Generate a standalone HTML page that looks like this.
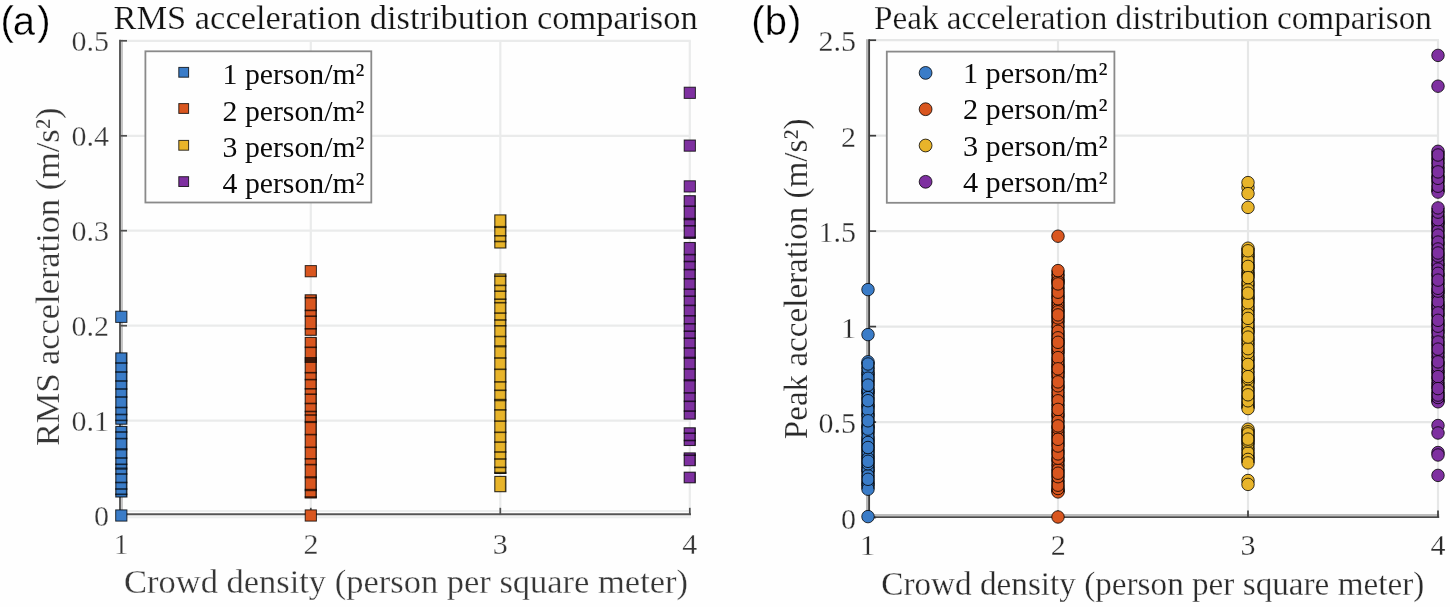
<!DOCTYPE html>
<html><head><meta charset="utf-8"><title>Acceleration distribution comparison</title>
<style>html,body{margin:0;padding:0;background:#fefefe;}body{width:1450px;height:607px;overflow:hidden;}svg{display:block;filter:blur(0.4px);}</style>
</head><body>
<svg width="1450" height="607" viewBox="0 0 1450 607">
<rect width="1450" height="607" fill="#fefefe"/>
<line x1="310.8" y1="40.8" x2="310.8" y2="515.6" stroke="#eaebeb" stroke-width="2.2"/>
<line x1="500.3" y1="40.8" x2="500.3" y2="515.6" stroke="#eaebeb" stroke-width="2.2"/>
<line x1="689.8" y1="40.8" x2="689.8" y2="515.6" stroke="#eaebeb" stroke-width="2.2"/>
<line x1="121.3" y1="420.6" x2="690.8" y2="420.6" stroke="#eaebeb" stroke-width="2.2"/>
<line x1="121.3" y1="325.7" x2="690.8" y2="325.7" stroke="#eaebeb" stroke-width="2.2"/>
<line x1="121.3" y1="230.7" x2="690.8" y2="230.7" stroke="#eaebeb" stroke-width="2.2"/>
<line x1="121.3" y1="135.8" x2="690.8" y2="135.8" stroke="#eaebeb" stroke-width="2.2"/>
<line x1="121.3" y1="40.8" x2="690.8" y2="40.8" stroke="#eaebeb" stroke-width="2.2"/>
<line x1="119.0" y1="511.0" x2="691.0" y2="511.0" stroke="#eceeee" stroke-width="2"/>
<line x1="119.0" y1="517.3" x2="691.0" y2="517.3" stroke="#eceeee" stroke-width="2"/>
<line x1="122.0" y1="39.8" x2="122.0" y2="515.3" stroke="#c6c6c6" stroke-width="2"/>
<line x1="120.0" y1="39.8" x2="120.0" y2="515.3" stroke="#555" stroke-width="1.9"/>
<line x1="119.0" y1="514.3" x2="691.0" y2="514.3" stroke="#555" stroke-width="2"/>
<line x1="120.0" y1="515.6" x2="127.0" y2="515.6" stroke="#505050" stroke-width="1.7"/>
<line x1="120.0" y1="420.6" x2="127.0" y2="420.6" stroke="#505050" stroke-width="1.7"/>
<line x1="120.0" y1="325.7" x2="127.0" y2="325.7" stroke="#505050" stroke-width="1.7"/>
<line x1="120.0" y1="230.7" x2="127.0" y2="230.7" stroke="#505050" stroke-width="1.7"/>
<line x1="120.0" y1="135.8" x2="127.0" y2="135.8" stroke="#505050" stroke-width="1.7"/>
<line x1="120.0" y1="40.8" x2="127.0" y2="40.8" stroke="#505050" stroke-width="1.7"/>
<line x1="310.8" y1="514.3" x2="310.8" y2="507.8" stroke="#505050" stroke-width="1.7"/>
<line x1="500.3" y1="514.3" x2="500.3" y2="507.8" stroke="#505050" stroke-width="1.7"/>
<line x1="689.8" y1="514.3" x2="689.8" y2="507.8" stroke="#505050" stroke-width="1.7"/>
<line x1="1058.0" y1="40.2" x2="1058.0" y2="517.5" stroke="#e6e7e7" stroke-width="2.2"/>
<line x1="1248.0" y1="40.2" x2="1248.0" y2="517.5" stroke="#e6e7e7" stroke-width="2.2"/>
<line x1="1438.0" y1="40.2" x2="1438.0" y2="517.5" stroke="#e6e7e7" stroke-width="2.2"/>
<line x1="868.0" y1="422.1" x2="1439.0" y2="422.1" stroke="#e6e7e7" stroke-width="2.2"/>
<line x1="868.0" y1="326.6" x2="1439.0" y2="326.6" stroke="#e6e7e7" stroke-width="2.2"/>
<line x1="868.0" y1="231.1" x2="1439.0" y2="231.1" stroke="#e6e7e7" stroke-width="2.2"/>
<line x1="868.0" y1="135.7" x2="1439.0" y2="135.7" stroke="#e6e7e7" stroke-width="2.2"/>
<line x1="868.0" y1="40.2" x2="1439.0" y2="40.2" stroke="#e6e7e7" stroke-width="2.2"/>
<line x1="867.0" y1="39.2" x2="867.0" y2="518.1" stroke="#b6b6b6" stroke-width="2"/>
<line x1="868.1" y1="514.9" x2="1439.2" y2="514.9" stroke="#bdbdbd" stroke-width="2"/>
<line x1="869.1" y1="39.2" x2="869.1" y2="518.1" stroke="#3e3e3e" stroke-width="1.9"/>
<line x1="868.1" y1="517.1" x2="1439.2" y2="517.1" stroke="#4a4a4a" stroke-width="1.9"/>
<line x1="869.1" y1="517.5" x2="876.1" y2="517.5" stroke="#3c3c3c" stroke-width="1.7"/>
<line x1="869.1" y1="422.1" x2="876.1" y2="422.1" stroke="#3c3c3c" stroke-width="1.7"/>
<line x1="869.1" y1="326.6" x2="876.1" y2="326.6" stroke="#3c3c3c" stroke-width="1.7"/>
<line x1="869.1" y1="231.1" x2="876.1" y2="231.1" stroke="#3c3c3c" stroke-width="1.7"/>
<line x1="869.1" y1="135.7" x2="876.1" y2="135.7" stroke="#3c3c3c" stroke-width="1.7"/>
<line x1="869.1" y1="40.2" x2="876.1" y2="40.2" stroke="#3c3c3c" stroke-width="1.7"/>
<line x1="1058.0" y1="517.1" x2="1058.0" y2="510.6" stroke="#3c3c3c" stroke-width="1.7"/>
<line x1="1248.0" y1="517.1" x2="1248.0" y2="510.6" stroke="#3c3c3c" stroke-width="1.7"/>
<line x1="1438.0" y1="517.1" x2="1438.0" y2="510.6" stroke="#3c3c3c" stroke-width="1.7"/>
<rect x="115.7" y="311.2" width="11.2" height="11.2" fill="#3a7cc8" stroke="#000" stroke-opacity="0.78" stroke-width="1.0"/>
<rect x="115.8" y="352.9" width="11.1" height="71.3" fill="#3a7cc8" stroke="#000" stroke-opacity="0.8" stroke-width="1.1"/>
<rect x="115.2" y="362.2" width="12.2" height="1.6" fill="#000" fill-opacity="0.7"/>
<rect x="115.2" y="371.2" width="12.2" height="1.6" fill="#000" fill-opacity="0.7"/>
<rect x="115.2" y="380.2" width="12.2" height="1.6" fill="#000" fill-opacity="0.7"/>
<rect x="115.2" y="388.2" width="12.2" height="1.6" fill="#000" fill-opacity="0.7"/>
<rect x="115.2" y="396.2" width="12.2" height="1.6" fill="#000" fill-opacity="0.7"/>
<rect x="115.2" y="406.7" width="12.2" height="1.6" fill="#000" fill-opacity="0.7"/>
<rect x="115.2" y="413.7" width="12.2" height="1.6" fill="#000" fill-opacity="0.7"/>
<rect x="115.2" y="419.6" width="12.2" height="1.6" fill="#000" fill-opacity="0.7"/>
<line x1="126.4" y1="353.4" x2="126.4" y2="423.8" stroke="#000" stroke-opacity="0.35" stroke-width="1.2"/>
<rect x="115.8" y="426.4" width="11.1" height="70.6" fill="#3a7cc8" stroke="#000" stroke-opacity="0.8" stroke-width="1.1"/>
<rect x="115.2" y="431.2" width="12.2" height="1.6" fill="#000" fill-opacity="0.7"/>
<rect x="115.2" y="437.8" width="12.2" height="1.6" fill="#000" fill-opacity="0.7"/>
<rect x="115.2" y="448.2" width="12.2" height="2.2" fill="#000" fill-opacity="0.7"/>
<rect x="115.2" y="457.2" width="12.2" height="1.6" fill="#000" fill-opacity="0.7"/>
<rect x="115.2" y="463.5" width="12.2" height="1.6" fill="#000" fill-opacity="0.7"/>
<rect x="115.2" y="467.5" width="12.2" height="2.2" fill="#000" fill-opacity="0.7"/>
<rect x="115.2" y="473.2" width="12.2" height="1.6" fill="#000" fill-opacity="0.7"/>
<rect x="115.2" y="481.7" width="12.2" height="1.6" fill="#000" fill-opacity="0.7"/>
<rect x="115.2" y="488.2" width="12.2" height="1.6" fill="#000" fill-opacity="0.7"/>
<rect x="115.2" y="493.5" width="12.2" height="1.6" fill="#000" fill-opacity="0.7"/>
<line x1="126.4" y1="426.8" x2="126.4" y2="496.5" stroke="#000" stroke-opacity="0.35" stroke-width="1.2"/>
<rect x="115.7" y="509.9" width="11.2" height="11.2" fill="#3a7cc8" stroke="#000" stroke-opacity="0.78" stroke-width="1.0"/>
<rect x="305.2" y="265.6" width="11.2" height="11.2" fill="#d9561f" stroke="#000" stroke-opacity="0.78" stroke-width="1.0"/>
<rect x="305.2" y="294.8" width="11.1" height="40.5" fill="#d9561f" stroke="#000" stroke-opacity="0.8" stroke-width="1.1"/>
<rect x="304.7" y="296.9" width="12.2" height="1.6" fill="#000" fill-opacity="0.7"/>
<rect x="304.7" y="309.6" width="12.2" height="1.6" fill="#000" fill-opacity="0.7"/>
<rect x="304.7" y="315.4" width="12.2" height="1.6" fill="#000" fill-opacity="0.7"/>
<rect x="304.7" y="328.0" width="12.2" height="1.6" fill="#000" fill-opacity="0.7"/>
<line x1="315.9" y1="295.2" x2="315.9" y2="334.8" stroke="#000" stroke-opacity="0.35" stroke-width="1.2"/>
<rect x="305.2" y="337.4" width="11.1" height="160.6" fill="#d9561f" stroke="#000" stroke-opacity="0.8" stroke-width="1.1"/>
<rect x="304.7" y="346.5" width="12.2" height="1.6" fill="#000" fill-opacity="0.7"/>
<rect x="304.7" y="357.0" width="12.2" height="6.0" fill="#000" fill-opacity="0.7"/>
<rect x="304.7" y="371.9" width="12.2" height="1.6" fill="#000" fill-opacity="0.7"/>
<rect x="304.7" y="378.8" width="12.2" height="1.6" fill="#000" fill-opacity="0.7"/>
<rect x="304.7" y="388.0" width="12.2" height="1.6" fill="#000" fill-opacity="0.7"/>
<rect x="304.7" y="393.4" width="12.2" height="1.6" fill="#000" fill-opacity="0.7"/>
<rect x="304.7" y="402.7" width="12.2" height="1.6" fill="#000" fill-opacity="0.7"/>
<rect x="304.7" y="410.7" width="12.2" height="1.6" fill="#000" fill-opacity="0.7"/>
<rect x="304.7" y="414.2" width="12.2" height="1.6" fill="#000" fill-opacity="0.7"/>
<rect x="304.7" y="420.9" width="12.2" height="2.2" fill="#000" fill-opacity="0.7"/>
<rect x="304.7" y="433.8" width="12.2" height="1.6" fill="#000" fill-opacity="0.7"/>
<rect x="304.7" y="446.5" width="12.2" height="1.6" fill="#000" fill-opacity="0.7"/>
<rect x="304.7" y="458.0" width="12.2" height="1.6" fill="#000" fill-opacity="0.7"/>
<rect x="304.7" y="463.8" width="12.2" height="1.6" fill="#000" fill-opacity="0.7"/>
<rect x="304.7" y="476.2" width="12.2" height="2.2" fill="#000" fill-opacity="0.7"/>
<rect x="304.7" y="488.8" width="12.2" height="2.4" fill="#000" fill-opacity="0.7"/>
<rect x="304.7" y="496.2" width="12.2" height="1.6" fill="#000" fill-opacity="0.7"/>
<line x1="315.9" y1="337.8" x2="315.9" y2="497.5" stroke="#000" stroke-opacity="0.35" stroke-width="1.2"/>
<rect x="305.2" y="509.9" width="11.2" height="11.2" fill="#d9561f" stroke="#000" stroke-opacity="0.78" stroke-width="1.0"/>
<rect x="494.8" y="214.9" width="11.1" height="33.1" fill="#e8b42a" stroke="#000" stroke-opacity="0.8" stroke-width="1.1"/>
<rect x="494.2" y="225.9" width="12.2" height="2.2" fill="#000" fill-opacity="0.7"/>
<rect x="494.2" y="235.0" width="12.2" height="1.6" fill="#000" fill-opacity="0.7"/>
<rect x="494.2" y="240.7" width="12.2" height="1.6" fill="#000" fill-opacity="0.7"/>
<line x1="505.4" y1="215.3" x2="505.4" y2="247.5" stroke="#000" stroke-opacity="0.35" stroke-width="1.2"/>
<rect x="494.8" y="273.9" width="11.1" height="199.5" fill="#e8b42a" stroke="#000" stroke-opacity="0.8" stroke-width="1.1"/>
<rect x="494.2" y="275.4" width="12.2" height="1.6" fill="#000" fill-opacity="0.7"/>
<rect x="494.2" y="284.6" width="12.2" height="1.6" fill="#000" fill-opacity="0.7"/>
<rect x="494.2" y="290.4" width="12.2" height="1.6" fill="#000" fill-opacity="0.7"/>
<rect x="494.2" y="298.4" width="12.2" height="1.6" fill="#000" fill-opacity="0.7"/>
<rect x="494.2" y="301.9" width="12.2" height="1.6" fill="#000" fill-opacity="0.7"/>
<rect x="494.2" y="312.3" width="12.2" height="1.6" fill="#000" fill-opacity="0.7"/>
<rect x="494.2" y="319.2" width="12.2" height="1.6" fill="#000" fill-opacity="0.7"/>
<rect x="494.2" y="325.0" width="12.2" height="1.6" fill="#000" fill-opacity="0.7"/>
<rect x="494.2" y="335.7" width="12.2" height="1.6" fill="#000" fill-opacity="0.7"/>
<rect x="494.2" y="345.2" width="12.2" height="2.2" fill="#000" fill-opacity="0.7"/>
<rect x="494.2" y="357.2" width="12.2" height="1.6" fill="#000" fill-opacity="0.7"/>
<rect x="494.2" y="368.5" width="12.2" height="1.6" fill="#000" fill-opacity="0.7"/>
<rect x="494.2" y="381.1" width="12.2" height="1.6" fill="#000" fill-opacity="0.7"/>
<rect x="494.2" y="389.5" width="12.2" height="1.6" fill="#000" fill-opacity="0.7"/>
<rect x="494.2" y="398.8" width="12.2" height="2.5" fill="#000" fill-opacity="0.7"/>
<rect x="494.2" y="409.1" width="12.2" height="1.6" fill="#000" fill-opacity="0.7"/>
<rect x="494.2" y="420.3" width="12.2" height="1.6" fill="#000" fill-opacity="0.7"/>
<rect x="494.2" y="431.5" width="12.2" height="1.6" fill="#000" fill-opacity="0.7"/>
<rect x="494.2" y="441.3" width="12.2" height="1.6" fill="#000" fill-opacity="0.7"/>
<rect x="494.2" y="451.2" width="12.2" height="1.6" fill="#000" fill-opacity="0.7"/>
<rect x="494.2" y="458.2" width="12.2" height="1.6" fill="#000" fill-opacity="0.7"/>
<rect x="494.2" y="466.6" width="12.2" height="1.6" fill="#000" fill-opacity="0.7"/>
<rect x="494.2" y="471.8" width="12.2" height="2.0" fill="#000" fill-opacity="0.7"/>
<line x1="505.4" y1="274.4" x2="505.4" y2="473.0" stroke="#000" stroke-opacity="0.35" stroke-width="1.2"/>
<rect x="494.8" y="476.4" width="11.1" height="15.3" fill="#e8b42a" stroke="#000" stroke-opacity="0.8" stroke-width="1.1"/>
<line x1="505.4" y1="476.8" x2="505.4" y2="491.2" stroke="#000" stroke-opacity="0.35" stroke-width="1.2"/>
<rect x="684.2" y="87.2" width="11.2" height="11.2" fill="#7e30a0" stroke="#000" stroke-opacity="0.78" stroke-width="1.0"/>
<rect x="684.2" y="140.0" width="11.2" height="11.2" fill="#7e30a0" stroke="#000" stroke-opacity="0.78" stroke-width="1.0"/>
<rect x="684.2" y="180.8" width="11.2" height="11.2" fill="#7e30a0" stroke="#000" stroke-opacity="0.78" stroke-width="1.0"/>
<rect x="684.2" y="195.7" width="11.1" height="42.7" fill="#7e30a0" stroke="#000" stroke-opacity="0.8" stroke-width="1.1"/>
<rect x="683.7" y="205.4" width="12.2" height="1.6" fill="#000" fill-opacity="0.7"/>
<rect x="683.7" y="217.8" width="12.2" height="2.5" fill="#000" fill-opacity="0.7"/>
<rect x="683.7" y="225.0" width="12.2" height="1.6" fill="#000" fill-opacity="0.7"/>
<rect x="683.7" y="236.5" width="12.2" height="1.6" fill="#000" fill-opacity="0.7"/>
<line x1="694.9" y1="196.1" x2="694.9" y2="237.9" stroke="#000" stroke-opacity="0.35" stroke-width="1.2"/>
<rect x="684.2" y="242.5" width="11.1" height="176.6" fill="#7e30a0" stroke="#000" stroke-opacity="0.8" stroke-width="1.1"/>
<rect x="683.7" y="253.8" width="12.2" height="1.6" fill="#000" fill-opacity="0.7"/>
<rect x="683.7" y="260.7" width="12.2" height="1.6" fill="#000" fill-opacity="0.7"/>
<rect x="683.7" y="268.8" width="12.2" height="1.6" fill="#000" fill-opacity="0.7"/>
<rect x="683.7" y="278.0" width="12.2" height="1.6" fill="#000" fill-opacity="0.7"/>
<rect x="683.7" y="288.4" width="12.2" height="1.6" fill="#000" fill-opacity="0.7"/>
<rect x="683.7" y="295.4" width="12.2" height="1.6" fill="#000" fill-opacity="0.7"/>
<rect x="683.7" y="304.6" width="12.2" height="1.6" fill="#000" fill-opacity="0.7"/>
<rect x="683.7" y="315.0" width="12.2" height="1.6" fill="#000" fill-opacity="0.7"/>
<rect x="683.7" y="323.0" width="12.2" height="1.6" fill="#000" fill-opacity="0.7"/>
<rect x="683.7" y="330.4" width="12.2" height="1.6" fill="#000" fill-opacity="0.7"/>
<rect x="683.7" y="337.4" width="12.2" height="1.6" fill="#000" fill-opacity="0.7"/>
<rect x="683.7" y="347.2" width="12.2" height="1.6" fill="#000" fill-opacity="0.7"/>
<rect x="683.7" y="356.7" width="12.2" height="2.2" fill="#000" fill-opacity="0.7"/>
<rect x="683.7" y="368.2" width="12.2" height="1.6" fill="#000" fill-opacity="0.7"/>
<rect x="683.7" y="379.2" width="12.2" height="2.2" fill="#000" fill-opacity="0.7"/>
<rect x="683.7" y="392.1" width="12.2" height="1.6" fill="#000" fill-opacity="0.7"/>
<rect x="683.7" y="400.5" width="12.2" height="1.6" fill="#000" fill-opacity="0.7"/>
<rect x="683.7" y="410.3" width="12.2" height="1.6" fill="#000" fill-opacity="0.7"/>
<line x1="694.9" y1="242.9" x2="694.9" y2="418.6" stroke="#000" stroke-opacity="0.35" stroke-width="1.2"/>
<rect x="684.2" y="427.8" width="11.1" height="17.7" fill="#7e30a0" stroke="#000" stroke-opacity="0.8" stroke-width="1.1"/>
<rect x="683.7" y="432.4" width="12.2" height="1.6" fill="#000" fill-opacity="0.7"/>
<rect x="683.7" y="439.7" width="12.2" height="1.6" fill="#000" fill-opacity="0.7"/>
<line x1="694.9" y1="428.2" x2="694.9" y2="445.0" stroke="#000" stroke-opacity="0.35" stroke-width="1.2"/>
<rect x="684.2" y="452.9" width="11.1" height="12.8" fill="#7e30a0" stroke="#000" stroke-opacity="0.8" stroke-width="1.1"/>
<rect x="683.7" y="454.4" width="12.2" height="1.6" fill="#000" fill-opacity="0.7"/>
<line x1="694.9" y1="453.4" x2="694.9" y2="465.3" stroke="#000" stroke-opacity="0.35" stroke-width="1.2"/>
<rect x="684.2" y="472.2" width="11.1" height="10.6" fill="#7e30a0" stroke="#000" stroke-opacity="0.8" stroke-width="1.1"/>
<line x1="694.9" y1="472.7" x2="694.9" y2="482.4" stroke="#000" stroke-opacity="0.35" stroke-width="1.2"/>
<circle cx="868.0" cy="289.6" r="6.25" fill="#3a7cc8" stroke="#000" stroke-opacity="0.78" stroke-width="1.0"/>
<circle cx="868.0" cy="334.6" r="6.25" fill="#3a7cc8" stroke="#000" stroke-opacity="0.78" stroke-width="1.0"/>
<circle cx="868.0" cy="449.9" r="6.25" fill="#3a7cc8" stroke="#000" stroke-opacity="0.78" stroke-width="1.0"/>
<circle cx="868.0" cy="456.3" r="6.25" fill="#3a7cc8" stroke="#000" stroke-opacity="0.78" stroke-width="1.0"/>
<circle cx="868.0" cy="393.3" r="6.25" fill="#3a7cc8" stroke="#000" stroke-opacity="0.78" stroke-width="1.0"/>
<circle cx="868.0" cy="453.0" r="6.25" fill="#3a7cc8" stroke="#000" stroke-opacity="0.78" stroke-width="1.0"/>
<circle cx="868.0" cy="375.0" r="6.25" fill="#3a7cc8" stroke="#000" stroke-opacity="0.78" stroke-width="1.0"/>
<circle cx="868.0" cy="471.5" r="6.25" fill="#3a7cc8" stroke="#000" stroke-opacity="0.78" stroke-width="1.0"/>
<circle cx="868.0" cy="413.7" r="6.25" fill="#3a7cc8" stroke="#000" stroke-opacity="0.78" stroke-width="1.0"/>
<circle cx="868.0" cy="391.4" r="6.25" fill="#3a7cc8" stroke="#000" stroke-opacity="0.78" stroke-width="1.0"/>
<circle cx="868.0" cy="361.8" r="6.25" fill="#3a7cc8" stroke="#000" stroke-opacity="0.78" stroke-width="1.0"/>
<circle cx="868.0" cy="445.6" r="6.25" fill="#3a7cc8" stroke="#000" stroke-opacity="0.78" stroke-width="1.0"/>
<circle cx="868.0" cy="432.5" r="6.25" fill="#3a7cc8" stroke="#000" stroke-opacity="0.78" stroke-width="1.0"/>
<circle cx="868.0" cy="381.4" r="6.25" fill="#3a7cc8" stroke="#000" stroke-opacity="0.78" stroke-width="1.0"/>
<circle cx="868.0" cy="389.3" r="6.25" fill="#3a7cc8" stroke="#000" stroke-opacity="0.78" stroke-width="1.0"/>
<circle cx="868.0" cy="467.0" r="6.25" fill="#3a7cc8" stroke="#000" stroke-opacity="0.78" stroke-width="1.0"/>
<circle cx="868.0" cy="440.1" r="6.25" fill="#3a7cc8" stroke="#000" stroke-opacity="0.78" stroke-width="1.0"/>
<circle cx="868.0" cy="372.4" r="6.25" fill="#3a7cc8" stroke="#000" stroke-opacity="0.78" stroke-width="1.0"/>
<circle cx="868.0" cy="406.6" r="6.25" fill="#3a7cc8" stroke="#000" stroke-opacity="0.78" stroke-width="1.0"/>
<circle cx="868.0" cy="368.3" r="6.25" fill="#3a7cc8" stroke="#000" stroke-opacity="0.78" stroke-width="1.0"/>
<circle cx="868.0" cy="427.2" r="6.25" fill="#3a7cc8" stroke="#000" stroke-opacity="0.78" stroke-width="1.0"/>
<circle cx="868.0" cy="416.2" r="6.25" fill="#3a7cc8" stroke="#000" stroke-opacity="0.78" stroke-width="1.0"/>
<circle cx="868.0" cy="397.6" r="6.25" fill="#3a7cc8" stroke="#000" stroke-opacity="0.78" stroke-width="1.0"/>
<circle cx="868.0" cy="378.2" r="6.25" fill="#3a7cc8" stroke="#000" stroke-opacity="0.78" stroke-width="1.0"/>
<circle cx="868.0" cy="483.0" r="6.25" fill="#3a7cc8" stroke="#000" stroke-opacity="0.78" stroke-width="1.0"/>
<circle cx="868.0" cy="404.8" r="6.25" fill="#3a7cc8" stroke="#000" stroke-opacity="0.78" stroke-width="1.0"/>
<circle cx="868.0" cy="469.6" r="6.25" fill="#3a7cc8" stroke="#000" stroke-opacity="0.78" stroke-width="1.0"/>
<circle cx="868.0" cy="437.1" r="6.25" fill="#3a7cc8" stroke="#000" stroke-opacity="0.78" stroke-width="1.0"/>
<circle cx="868.0" cy="485.4" r="6.25" fill="#3a7cc8" stroke="#000" stroke-opacity="0.78" stroke-width="1.0"/>
<circle cx="868.0" cy="409.7" r="6.25" fill="#3a7cc8" stroke="#000" stroke-opacity="0.78" stroke-width="1.0"/>
<circle cx="868.0" cy="364.0" r="6.25" fill="#3a7cc8" stroke="#000" stroke-opacity="0.78" stroke-width="1.0"/>
<circle cx="868.0" cy="475.8" r="6.25" fill="#3a7cc8" stroke="#000" stroke-opacity="0.78" stroke-width="1.0"/>
<circle cx="868.0" cy="463.8" r="6.25" fill="#3a7cc8" stroke="#000" stroke-opacity="0.78" stroke-width="1.0"/>
<circle cx="868.0" cy="442.5" r="6.25" fill="#3a7cc8" stroke="#000" stroke-opacity="0.78" stroke-width="1.0"/>
<circle cx="868.0" cy="458.8" r="6.25" fill="#3a7cc8" stroke="#000" stroke-opacity="0.78" stroke-width="1.0"/>
<circle cx="868.0" cy="489.2" r="6.25" fill="#3a7cc8" stroke="#000" stroke-opacity="0.78" stroke-width="1.0"/>
<circle cx="868.0" cy="425.3" r="6.25" fill="#3a7cc8" stroke="#000" stroke-opacity="0.78" stroke-width="1.0"/>
<circle cx="868.0" cy="400.7" r="6.25" fill="#3a7cc8" stroke="#000" stroke-opacity="0.78" stroke-width="1.0"/>
<circle cx="868.0" cy="479.3" r="6.25" fill="#3a7cc8" stroke="#000" stroke-opacity="0.78" stroke-width="1.0"/>
<circle cx="868.0" cy="447.5" r="6.25" fill="#3a7cc8" stroke="#000" stroke-opacity="0.78" stroke-width="1.0"/>
<circle cx="868.0" cy="461.3" r="6.25" fill="#3a7cc8" stroke="#000" stroke-opacity="0.78" stroke-width="1.0"/>
<circle cx="868.0" cy="429.1" r="6.25" fill="#3a7cc8" stroke="#000" stroke-opacity="0.78" stroke-width="1.0"/>
<circle cx="868.0" cy="385.1" r="6.25" fill="#3a7cc8" stroke="#000" stroke-opacity="0.78" stroke-width="1.0"/>
<circle cx="868.0" cy="420.8" r="6.25" fill="#3a7cc8" stroke="#000" stroke-opacity="0.78" stroke-width="1.0"/>
<line x1="862.1" y1="361.8" x2="862.1" y2="489.2" stroke="#000" stroke-opacity="0.55" stroke-width="1.6"/>
<line x1="873.9" y1="361.8" x2="873.9" y2="489.2" stroke="#000" stroke-opacity="0.55" stroke-width="1.6"/>
<circle cx="868.0" cy="516.6" r="6.25" fill="#3a7cc8" stroke="#000" stroke-opacity="0.78" stroke-width="1.0"/>
<circle cx="1058.0" cy="236.2" r="6.25" fill="#d9561f" stroke="#000" stroke-opacity="0.78" stroke-width="1.0"/>
<circle cx="1058.0" cy="279.9" r="6.25" fill="#d9561f" stroke="#000" stroke-opacity="0.78" stroke-width="1.0"/>
<circle cx="1058.0" cy="490.9" r="6.25" fill="#d9561f" stroke="#000" stroke-opacity="0.78" stroke-width="1.0"/>
<circle cx="1058.0" cy="367.0" r="6.25" fill="#d9561f" stroke="#000" stroke-opacity="0.78" stroke-width="1.0"/>
<circle cx="1058.0" cy="302.4" r="6.25" fill="#d9561f" stroke="#000" stroke-opacity="0.78" stroke-width="1.0"/>
<circle cx="1058.0" cy="432.2" r="6.25" fill="#d9561f" stroke="#000" stroke-opacity="0.78" stroke-width="1.0"/>
<circle cx="1058.0" cy="481.2" r="6.25" fill="#d9561f" stroke="#000" stroke-opacity="0.78" stroke-width="1.0"/>
<circle cx="1058.0" cy="436.1" r="6.25" fill="#d9561f" stroke="#000" stroke-opacity="0.78" stroke-width="1.0"/>
<circle cx="1058.0" cy="364.5" r="6.25" fill="#d9561f" stroke="#000" stroke-opacity="0.78" stroke-width="1.0"/>
<circle cx="1058.0" cy="450.6" r="6.25" fill="#d9561f" stroke="#000" stroke-opacity="0.78" stroke-width="1.0"/>
<circle cx="1058.0" cy="306.0" r="6.25" fill="#d9561f" stroke="#000" stroke-opacity="0.78" stroke-width="1.0"/>
<circle cx="1058.0" cy="334.7" r="6.25" fill="#d9561f" stroke="#000" stroke-opacity="0.78" stroke-width="1.0"/>
<circle cx="1058.0" cy="321.8" r="6.25" fill="#d9561f" stroke="#000" stroke-opacity="0.78" stroke-width="1.0"/>
<circle cx="1058.0" cy="344.2" r="6.25" fill="#d9561f" stroke="#000" stroke-opacity="0.78" stroke-width="1.0"/>
<circle cx="1058.0" cy="416.4" r="6.25" fill="#d9561f" stroke="#000" stroke-opacity="0.78" stroke-width="1.0"/>
<circle cx="1058.0" cy="340.4" r="6.25" fill="#d9561f" stroke="#000" stroke-opacity="0.78" stroke-width="1.0"/>
<circle cx="1058.0" cy="396.8" r="6.25" fill="#d9561f" stroke="#000" stroke-opacity="0.78" stroke-width="1.0"/>
<circle cx="1058.0" cy="353.1" r="6.25" fill="#d9561f" stroke="#000" stroke-opacity="0.78" stroke-width="1.0"/>
<circle cx="1058.0" cy="288.2" r="6.25" fill="#d9561f" stroke="#000" stroke-opacity="0.78" stroke-width="1.0"/>
<circle cx="1058.0" cy="428.1" r="6.25" fill="#d9561f" stroke="#000" stroke-opacity="0.78" stroke-width="1.0"/>
<circle cx="1058.0" cy="309.5" r="6.25" fill="#d9561f" stroke="#000" stroke-opacity="0.78" stroke-width="1.0"/>
<circle cx="1058.0" cy="442.7" r="6.25" fill="#d9561f" stroke="#000" stroke-opacity="0.78" stroke-width="1.0"/>
<circle cx="1058.0" cy="413.6" r="6.25" fill="#d9561f" stroke="#000" stroke-opacity="0.78" stroke-width="1.0"/>
<circle cx="1058.0" cy="465.5" r="6.25" fill="#d9561f" stroke="#000" stroke-opacity="0.78" stroke-width="1.0"/>
<circle cx="1058.0" cy="275.2" r="6.25" fill="#d9561f" stroke="#000" stroke-opacity="0.78" stroke-width="1.0"/>
<circle cx="1058.0" cy="421.2" r="6.25" fill="#d9561f" stroke="#000" stroke-opacity="0.78" stroke-width="1.0"/>
<circle cx="1058.0" cy="296.0" r="6.25" fill="#d9561f" stroke="#000" stroke-opacity="0.78" stroke-width="1.0"/>
<circle cx="1058.0" cy="298.7" r="6.25" fill="#d9561f" stroke="#000" stroke-opacity="0.78" stroke-width="1.0"/>
<circle cx="1058.0" cy="361.0" r="6.25" fill="#d9561f" stroke="#000" stroke-opacity="0.78" stroke-width="1.0"/>
<circle cx="1058.0" cy="405.3" r="6.25" fill="#d9561f" stroke="#000" stroke-opacity="0.78" stroke-width="1.0"/>
<circle cx="1058.0" cy="326.6" r="6.25" fill="#d9561f" stroke="#000" stroke-opacity="0.78" stroke-width="1.0"/>
<circle cx="1058.0" cy="350.2" r="6.25" fill="#d9561f" stroke="#000" stroke-opacity="0.78" stroke-width="1.0"/>
<circle cx="1058.0" cy="388.1" r="6.25" fill="#d9561f" stroke="#000" stroke-opacity="0.78" stroke-width="1.0"/>
<circle cx="1058.0" cy="317.9" r="6.25" fill="#d9561f" stroke="#000" stroke-opacity="0.78" stroke-width="1.0"/>
<circle cx="1058.0" cy="331.3" r="6.25" fill="#d9561f" stroke="#000" stroke-opacity="0.78" stroke-width="1.0"/>
<circle cx="1058.0" cy="461.0" r="6.25" fill="#d9561f" stroke="#000" stroke-opacity="0.78" stroke-width="1.0"/>
<circle cx="1058.0" cy="281.8" r="6.25" fill="#d9561f" stroke="#000" stroke-opacity="0.78" stroke-width="1.0"/>
<circle cx="1058.0" cy="292.2" r="6.25" fill="#d9561f" stroke="#000" stroke-opacity="0.78" stroke-width="1.0"/>
<circle cx="1058.0" cy="311.8" r="6.25" fill="#d9561f" stroke="#000" stroke-opacity="0.78" stroke-width="1.0"/>
<circle cx="1058.0" cy="270.6" r="6.25" fill="#d9561f" stroke="#000" stroke-opacity="0.78" stroke-width="1.0"/>
<circle cx="1058.0" cy="491.9" r="6.25" fill="#d9561f" stroke="#000" stroke-opacity="0.78" stroke-width="1.0"/>
<circle cx="1058.0" cy="283.9" r="6.25" fill="#d9561f" stroke="#000" stroke-opacity="0.78" stroke-width="1.0"/>
<circle cx="1058.0" cy="488.5" r="6.25" fill="#d9561f" stroke="#000" stroke-opacity="0.78" stroke-width="1.0"/>
<circle cx="1058.0" cy="347.4" r="6.25" fill="#d9561f" stroke="#000" stroke-opacity="0.78" stroke-width="1.0"/>
<circle cx="1058.0" cy="470.0" r="6.25" fill="#d9561f" stroke="#000" stroke-opacity="0.78" stroke-width="1.0"/>
<circle cx="1058.0" cy="371.6" r="6.25" fill="#d9561f" stroke="#000" stroke-opacity="0.78" stroke-width="1.0"/>
<circle cx="1058.0" cy="314.9" r="6.25" fill="#d9561f" stroke="#000" stroke-opacity="0.78" stroke-width="1.0"/>
<circle cx="1058.0" cy="485.2" r="6.25" fill="#d9561f" stroke="#000" stroke-opacity="0.78" stroke-width="1.0"/>
<circle cx="1058.0" cy="357.6" r="6.25" fill="#d9561f" stroke="#000" stroke-opacity="0.78" stroke-width="1.0"/>
<circle cx="1058.0" cy="392.6" r="6.25" fill="#d9561f" stroke="#000" stroke-opacity="0.78" stroke-width="1.0"/>
<circle cx="1058.0" cy="400.8" r="6.25" fill="#d9561f" stroke="#000" stroke-opacity="0.78" stroke-width="1.0"/>
<circle cx="1058.0" cy="409.4" r="6.25" fill="#d9561f" stroke="#000" stroke-opacity="0.78" stroke-width="1.0"/>
<circle cx="1058.0" cy="458.2" r="6.25" fill="#d9561f" stroke="#000" stroke-opacity="0.78" stroke-width="1.0"/>
<circle cx="1058.0" cy="377.1" r="6.25" fill="#d9561f" stroke="#000" stroke-opacity="0.78" stroke-width="1.0"/>
<circle cx="1058.0" cy="385.8" r="6.25" fill="#d9561f" stroke="#000" stroke-opacity="0.78" stroke-width="1.0"/>
<circle cx="1058.0" cy="373.8" r="6.25" fill="#d9561f" stroke="#000" stroke-opacity="0.78" stroke-width="1.0"/>
<circle cx="1058.0" cy="453.9" r="6.25" fill="#d9561f" stroke="#000" stroke-opacity="0.78" stroke-width="1.0"/>
<circle cx="1058.0" cy="425.9" r="6.25" fill="#d9561f" stroke="#000" stroke-opacity="0.78" stroke-width="1.0"/>
<circle cx="1058.0" cy="446.0" r="6.25" fill="#d9561f" stroke="#000" stroke-opacity="0.78" stroke-width="1.0"/>
<circle cx="1058.0" cy="476.7" r="6.25" fill="#d9561f" stroke="#000" stroke-opacity="0.78" stroke-width="1.0"/>
<circle cx="1058.0" cy="337.8" r="6.25" fill="#d9561f" stroke="#000" stroke-opacity="0.78" stroke-width="1.0"/>
<circle cx="1058.0" cy="368.8" r="6.25" fill="#d9561f" stroke="#000" stroke-opacity="0.78" stroke-width="1.0"/>
<circle cx="1058.0" cy="473.2" r="6.25" fill="#d9561f" stroke="#000" stroke-opacity="0.78" stroke-width="1.0"/>
<circle cx="1058.0" cy="439.3" r="6.25" fill="#d9561f" stroke="#000" stroke-opacity="0.78" stroke-width="1.0"/>
<circle cx="1058.0" cy="381.9" r="6.25" fill="#d9561f" stroke="#000" stroke-opacity="0.78" stroke-width="1.0"/>
<circle cx="1058.0" cy="342.3" r="6.25" fill="#d9561f" stroke="#000" stroke-opacity="0.78" stroke-width="1.0"/>
<line x1="1052.2" y1="270.6" x2="1052.2" y2="491.9" stroke="#000" stroke-opacity="0.55" stroke-width="1.6"/>
<line x1="1063.8" y1="270.6" x2="1063.8" y2="491.9" stroke="#000" stroke-opacity="0.55" stroke-width="1.6"/>
<circle cx="1058.0" cy="517.0" r="6.25" fill="#d9561f" stroke="#000" stroke-opacity="0.78" stroke-width="1.0"/>
<circle cx="1248.0" cy="187.5" r="6.25" fill="#e8b42a" stroke="#000" stroke-opacity="0.78" stroke-width="1.0"/>
<circle cx="1248.0" cy="182.6" r="6.25" fill="#e8b42a" stroke="#000" stroke-opacity="0.78" stroke-width="1.0"/>
<circle cx="1248.0" cy="193.6" r="6.25" fill="#e8b42a" stroke="#000" stroke-opacity="0.78" stroke-width="1.0"/>
<circle cx="1248.0" cy="207.4" r="6.25" fill="#e8b42a" stroke="#000" stroke-opacity="0.78" stroke-width="1.0"/>
<circle cx="1248.0" cy="344.3" r="6.25" fill="#e8b42a" stroke="#000" stroke-opacity="0.78" stroke-width="1.0"/>
<circle cx="1248.0" cy="360.2" r="6.25" fill="#e8b42a" stroke="#000" stroke-opacity="0.78" stroke-width="1.0"/>
<circle cx="1248.0" cy="357.2" r="6.25" fill="#e8b42a" stroke="#000" stroke-opacity="0.78" stroke-width="1.0"/>
<circle cx="1248.0" cy="285.6" r="6.25" fill="#e8b42a" stroke="#000" stroke-opacity="0.78" stroke-width="1.0"/>
<circle cx="1248.0" cy="406.6" r="6.25" fill="#e8b42a" stroke="#000" stroke-opacity="0.78" stroke-width="1.0"/>
<circle cx="1248.0" cy="328.1" r="6.25" fill="#e8b42a" stroke="#000" stroke-opacity="0.78" stroke-width="1.0"/>
<circle cx="1248.0" cy="403.8" r="6.25" fill="#e8b42a" stroke="#000" stroke-opacity="0.78" stroke-width="1.0"/>
<circle cx="1248.0" cy="380.9" r="6.25" fill="#e8b42a" stroke="#000" stroke-opacity="0.78" stroke-width="1.0"/>
<circle cx="1248.0" cy="388.0" r="6.25" fill="#e8b42a" stroke="#000" stroke-opacity="0.78" stroke-width="1.0"/>
<circle cx="1248.0" cy="320.4" r="6.25" fill="#e8b42a" stroke="#000" stroke-opacity="0.78" stroke-width="1.0"/>
<circle cx="1248.0" cy="272.5" r="6.25" fill="#e8b42a" stroke="#000" stroke-opacity="0.78" stroke-width="1.0"/>
<circle cx="1248.0" cy="264.4" r="6.25" fill="#e8b42a" stroke="#000" stroke-opacity="0.78" stroke-width="1.0"/>
<circle cx="1248.0" cy="340.3" r="6.25" fill="#e8b42a" stroke="#000" stroke-opacity="0.78" stroke-width="1.0"/>
<circle cx="1248.0" cy="330.8" r="6.25" fill="#e8b42a" stroke="#000" stroke-opacity="0.78" stroke-width="1.0"/>
<circle cx="1248.0" cy="408.6" r="6.25" fill="#e8b42a" stroke="#000" stroke-opacity="0.78" stroke-width="1.0"/>
<circle cx="1248.0" cy="299.1" r="6.25" fill="#e8b42a" stroke="#000" stroke-opacity="0.78" stroke-width="1.0"/>
<circle cx="1248.0" cy="397.5" r="6.25" fill="#e8b42a" stroke="#000" stroke-opacity="0.78" stroke-width="1.0"/>
<circle cx="1248.0" cy="257.1" r="6.25" fill="#e8b42a" stroke="#000" stroke-opacity="0.78" stroke-width="1.0"/>
<circle cx="1248.0" cy="310.6" r="6.25" fill="#e8b42a" stroke="#000" stroke-opacity="0.78" stroke-width="1.0"/>
<circle cx="1248.0" cy="324.5" r="6.25" fill="#e8b42a" stroke="#000" stroke-opacity="0.78" stroke-width="1.0"/>
<circle cx="1248.0" cy="275.1" r="6.25" fill="#e8b42a" stroke="#000" stroke-opacity="0.78" stroke-width="1.0"/>
<circle cx="1248.0" cy="248.2" r="6.25" fill="#e8b42a" stroke="#000" stroke-opacity="0.78" stroke-width="1.0"/>
<circle cx="1248.0" cy="352.6" r="6.25" fill="#e8b42a" stroke="#000" stroke-opacity="0.78" stroke-width="1.0"/>
<circle cx="1248.0" cy="367.5" r="6.25" fill="#e8b42a" stroke="#000" stroke-opacity="0.78" stroke-width="1.0"/>
<circle cx="1248.0" cy="332.7" r="6.25" fill="#e8b42a" stroke="#000" stroke-opacity="0.78" stroke-width="1.0"/>
<circle cx="1248.0" cy="282.4" r="6.25" fill="#e8b42a" stroke="#000" stroke-opacity="0.78" stroke-width="1.0"/>
<circle cx="1248.0" cy="254.2" r="6.25" fill="#e8b42a" stroke="#000" stroke-opacity="0.78" stroke-width="1.0"/>
<circle cx="1248.0" cy="348.7" r="6.25" fill="#e8b42a" stroke="#000" stroke-opacity="0.78" stroke-width="1.0"/>
<circle cx="1248.0" cy="383.3" r="6.25" fill="#e8b42a" stroke="#000" stroke-opacity="0.78" stroke-width="1.0"/>
<circle cx="1248.0" cy="337.1" r="6.25" fill="#e8b42a" stroke="#000" stroke-opacity="0.78" stroke-width="1.0"/>
<circle cx="1248.0" cy="296.9" r="6.25" fill="#e8b42a" stroke="#000" stroke-opacity="0.78" stroke-width="1.0"/>
<circle cx="1248.0" cy="260.7" r="6.25" fill="#e8b42a" stroke="#000" stroke-opacity="0.78" stroke-width="1.0"/>
<circle cx="1248.0" cy="268.2" r="6.25" fill="#e8b42a" stroke="#000" stroke-opacity="0.78" stroke-width="1.0"/>
<circle cx="1248.0" cy="307.2" r="6.25" fill="#e8b42a" stroke="#000" stroke-opacity="0.78" stroke-width="1.0"/>
<circle cx="1248.0" cy="400.8" r="6.25" fill="#e8b42a" stroke="#000" stroke-opacity="0.78" stroke-width="1.0"/>
<circle cx="1248.0" cy="289.9" r="6.25" fill="#e8b42a" stroke="#000" stroke-opacity="0.78" stroke-width="1.0"/>
<circle cx="1248.0" cy="266.4" r="6.25" fill="#e8b42a" stroke="#000" stroke-opacity="0.78" stroke-width="1.0"/>
<circle cx="1248.0" cy="391.1" r="6.25" fill="#e8b42a" stroke="#000" stroke-opacity="0.78" stroke-width="1.0"/>
<circle cx="1248.0" cy="372.1" r="6.25" fill="#e8b42a" stroke="#000" stroke-opacity="0.78" stroke-width="1.0"/>
<circle cx="1248.0" cy="364.4" r="6.25" fill="#e8b42a" stroke="#000" stroke-opacity="0.78" stroke-width="1.0"/>
<circle cx="1248.0" cy="314.6" r="6.25" fill="#e8b42a" stroke="#000" stroke-opacity="0.78" stroke-width="1.0"/>
<circle cx="1248.0" cy="277.6" r="6.25" fill="#e8b42a" stroke="#000" stroke-opacity="0.78" stroke-width="1.0"/>
<circle cx="1248.0" cy="378.7" r="6.25" fill="#e8b42a" stroke="#000" stroke-opacity="0.78" stroke-width="1.0"/>
<circle cx="1248.0" cy="302.8" r="6.25" fill="#e8b42a" stroke="#000" stroke-opacity="0.78" stroke-width="1.0"/>
<circle cx="1248.0" cy="250.8" r="6.25" fill="#e8b42a" stroke="#000" stroke-opacity="0.78" stroke-width="1.0"/>
<circle cx="1248.0" cy="394.8" r="6.25" fill="#e8b42a" stroke="#000" stroke-opacity="0.78" stroke-width="1.0"/>
<circle cx="1248.0" cy="318.4" r="6.25" fill="#e8b42a" stroke="#000" stroke-opacity="0.78" stroke-width="1.0"/>
<circle cx="1248.0" cy="293.2" r="6.25" fill="#e8b42a" stroke="#000" stroke-opacity="0.78" stroke-width="1.0"/>
<circle cx="1248.0" cy="376.6" r="6.25" fill="#e8b42a" stroke="#000" stroke-opacity="0.78" stroke-width="1.0"/>
<line x1="1242.2" y1="248.2" x2="1242.2" y2="408.6" stroke="#000" stroke-opacity="0.55" stroke-width="1.6"/>
<line x1="1253.8" y1="248.2" x2="1253.8" y2="408.6" stroke="#000" stroke-opacity="0.55" stroke-width="1.6"/>
<circle cx="1248.0" cy="457.0" r="6.25" fill="#e8b42a" stroke="#000" stroke-opacity="0.78" stroke-width="1.0"/>
<circle cx="1248.0" cy="448.7" r="6.25" fill="#e8b42a" stroke="#000" stroke-opacity="0.78" stroke-width="1.0"/>
<circle cx="1248.0" cy="444.1" r="6.25" fill="#e8b42a" stroke="#000" stroke-opacity="0.78" stroke-width="1.0"/>
<circle cx="1248.0" cy="452.9" r="6.25" fill="#e8b42a" stroke="#000" stroke-opacity="0.78" stroke-width="1.0"/>
<circle cx="1248.0" cy="459.4" r="6.25" fill="#e8b42a" stroke="#000" stroke-opacity="0.78" stroke-width="1.0"/>
<circle cx="1248.0" cy="441.1" r="6.25" fill="#e8b42a" stroke="#000" stroke-opacity="0.78" stroke-width="1.0"/>
<circle cx="1248.0" cy="429.2" r="6.25" fill="#e8b42a" stroke="#000" stroke-opacity="0.78" stroke-width="1.0"/>
<circle cx="1248.0" cy="436.9" r="6.25" fill="#e8b42a" stroke="#000" stroke-opacity="0.78" stroke-width="1.0"/>
<circle cx="1248.0" cy="462.9" r="6.25" fill="#e8b42a" stroke="#000" stroke-opacity="0.78" stroke-width="1.0"/>
<circle cx="1248.0" cy="431.8" r="6.25" fill="#e8b42a" stroke="#000" stroke-opacity="0.78" stroke-width="1.0"/>
<circle cx="1248.0" cy="433.9" r="6.25" fill="#e8b42a" stroke="#000" stroke-opacity="0.78" stroke-width="1.0"/>
<circle cx="1248.0" cy="439.1" r="6.25" fill="#e8b42a" stroke="#000" stroke-opacity="0.78" stroke-width="1.0"/>
<line x1="1242.2" y1="429.2" x2="1242.2" y2="462.9" stroke="#000" stroke-opacity="0.55" stroke-width="1.6"/>
<line x1="1253.8" y1="429.2" x2="1253.8" y2="462.9" stroke="#000" stroke-opacity="0.55" stroke-width="1.6"/>
<circle cx="1248.0" cy="480.5" r="6.25" fill="#e8b42a" stroke="#000" stroke-opacity="0.78" stroke-width="1.0"/>
<circle cx="1248.0" cy="484.4" r="6.25" fill="#e8b42a" stroke="#000" stroke-opacity="0.78" stroke-width="1.0"/>
<circle cx="1438.0" cy="55.4" r="6.25" fill="#7e30a0" stroke="#000" stroke-opacity="0.78" stroke-width="1.0"/>
<circle cx="1438.0" cy="86.2" r="6.25" fill="#7e30a0" stroke="#000" stroke-opacity="0.78" stroke-width="1.0"/>
<circle cx="1438.0" cy="181.5" r="6.25" fill="#7e30a0" stroke="#000" stroke-opacity="0.78" stroke-width="1.0"/>
<circle cx="1438.0" cy="159.0" r="6.25" fill="#7e30a0" stroke="#000" stroke-opacity="0.78" stroke-width="1.0"/>
<circle cx="1438.0" cy="189.9" r="6.25" fill="#7e30a0" stroke="#000" stroke-opacity="0.78" stroke-width="1.0"/>
<circle cx="1438.0" cy="192.1" r="6.25" fill="#7e30a0" stroke="#000" stroke-opacity="0.78" stroke-width="1.0"/>
<circle cx="1438.0" cy="186.2" r="6.25" fill="#7e30a0" stroke="#000" stroke-opacity="0.78" stroke-width="1.0"/>
<circle cx="1438.0" cy="151.3" r="6.25" fill="#7e30a0" stroke="#000" stroke-opacity="0.78" stroke-width="1.0"/>
<circle cx="1438.0" cy="167.9" r="6.25" fill="#7e30a0" stroke="#000" stroke-opacity="0.78" stroke-width="1.0"/>
<circle cx="1438.0" cy="176.4" r="6.25" fill="#7e30a0" stroke="#000" stroke-opacity="0.78" stroke-width="1.0"/>
<circle cx="1438.0" cy="163.2" r="6.25" fill="#7e30a0" stroke="#000" stroke-opacity="0.78" stroke-width="1.0"/>
<circle cx="1438.0" cy="178.3" r="6.25" fill="#7e30a0" stroke="#000" stroke-opacity="0.78" stroke-width="1.0"/>
<circle cx="1438.0" cy="171.9" r="6.25" fill="#7e30a0" stroke="#000" stroke-opacity="0.78" stroke-width="1.0"/>
<circle cx="1438.0" cy="155.0" r="6.25" fill="#7e30a0" stroke="#000" stroke-opacity="0.78" stroke-width="1.0"/>
<line x1="1432.2" y1="151.3" x2="1432.2" y2="192.1" stroke="#000" stroke-opacity="0.55" stroke-width="1.6"/>
<line x1="1443.8" y1="151.3" x2="1443.8" y2="192.1" stroke="#000" stroke-opacity="0.55" stroke-width="1.6"/>
<circle cx="1438.0" cy="265.6" r="6.25" fill="#7e30a0" stroke="#000" stroke-opacity="0.78" stroke-width="1.0"/>
<circle cx="1438.0" cy="330.0" r="6.25" fill="#7e30a0" stroke="#000" stroke-opacity="0.78" stroke-width="1.0"/>
<circle cx="1438.0" cy="284.0" r="6.25" fill="#7e30a0" stroke="#000" stroke-opacity="0.78" stroke-width="1.0"/>
<circle cx="1438.0" cy="224.0" r="6.25" fill="#7e30a0" stroke="#000" stroke-opacity="0.78" stroke-width="1.0"/>
<circle cx="1438.0" cy="337.5" r="6.25" fill="#7e30a0" stroke="#000" stroke-opacity="0.78" stroke-width="1.0"/>
<circle cx="1438.0" cy="227.8" r="6.25" fill="#7e30a0" stroke="#000" stroke-opacity="0.78" stroke-width="1.0"/>
<circle cx="1438.0" cy="400.8" r="6.25" fill="#7e30a0" stroke="#000" stroke-opacity="0.78" stroke-width="1.0"/>
<circle cx="1438.0" cy="275.9" r="6.25" fill="#7e30a0" stroke="#000" stroke-opacity="0.78" stroke-width="1.0"/>
<circle cx="1438.0" cy="315.6" r="6.25" fill="#7e30a0" stroke="#000" stroke-opacity="0.78" stroke-width="1.0"/>
<circle cx="1438.0" cy="304.8" r="6.25" fill="#7e30a0" stroke="#000" stroke-opacity="0.78" stroke-width="1.0"/>
<circle cx="1438.0" cy="222.2" r="6.25" fill="#7e30a0" stroke="#000" stroke-opacity="0.78" stroke-width="1.0"/>
<circle cx="1438.0" cy="378.6" r="6.25" fill="#7e30a0" stroke="#000" stroke-opacity="0.78" stroke-width="1.0"/>
<circle cx="1438.0" cy="357.2" r="6.25" fill="#7e30a0" stroke="#000" stroke-opacity="0.78" stroke-width="1.0"/>
<circle cx="1438.0" cy="309.2" r="6.25" fill="#7e30a0" stroke="#000" stroke-opacity="0.78" stroke-width="1.0"/>
<circle cx="1438.0" cy="383.1" r="6.25" fill="#7e30a0" stroke="#000" stroke-opacity="0.78" stroke-width="1.0"/>
<circle cx="1438.0" cy="332.9" r="6.25" fill="#7e30a0" stroke="#000" stroke-opacity="0.78" stroke-width="1.0"/>
<circle cx="1438.0" cy="238.0" r="6.25" fill="#7e30a0" stroke="#000" stroke-opacity="0.78" stroke-width="1.0"/>
<circle cx="1438.0" cy="259.4" r="6.25" fill="#7e30a0" stroke="#000" stroke-opacity="0.78" stroke-width="1.0"/>
<circle cx="1438.0" cy="401.8" r="6.25" fill="#7e30a0" stroke="#000" stroke-opacity="0.78" stroke-width="1.0"/>
<circle cx="1438.0" cy="263.3" r="6.25" fill="#7e30a0" stroke="#000" stroke-opacity="0.78" stroke-width="1.0"/>
<circle cx="1438.0" cy="297.4" r="6.25" fill="#7e30a0" stroke="#000" stroke-opacity="0.78" stroke-width="1.0"/>
<circle cx="1438.0" cy="386.5" r="6.25" fill="#7e30a0" stroke="#000" stroke-opacity="0.78" stroke-width="1.0"/>
<circle cx="1438.0" cy="373.0" r="6.25" fill="#7e30a0" stroke="#000" stroke-opacity="0.78" stroke-width="1.0"/>
<circle cx="1438.0" cy="306.8" r="6.25" fill="#7e30a0" stroke="#000" stroke-opacity="0.78" stroke-width="1.0"/>
<circle cx="1438.0" cy="370.3" r="6.25" fill="#7e30a0" stroke="#000" stroke-opacity="0.78" stroke-width="1.0"/>
<circle cx="1438.0" cy="363.8" r="6.25" fill="#7e30a0" stroke="#000" stroke-opacity="0.78" stroke-width="1.0"/>
<circle cx="1438.0" cy="216.4" r="6.25" fill="#7e30a0" stroke="#000" stroke-opacity="0.78" stroke-width="1.0"/>
<circle cx="1438.0" cy="366.7" r="6.25" fill="#7e30a0" stroke="#000" stroke-opacity="0.78" stroke-width="1.0"/>
<circle cx="1438.0" cy="231.0" r="6.25" fill="#7e30a0" stroke="#000" stroke-opacity="0.78" stroke-width="1.0"/>
<circle cx="1438.0" cy="256.0" r="6.25" fill="#7e30a0" stroke="#000" stroke-opacity="0.78" stroke-width="1.0"/>
<circle cx="1438.0" cy="323.8" r="6.25" fill="#7e30a0" stroke="#000" stroke-opacity="0.78" stroke-width="1.0"/>
<circle cx="1438.0" cy="293.2" r="6.25" fill="#7e30a0" stroke="#000" stroke-opacity="0.78" stroke-width="1.0"/>
<circle cx="1438.0" cy="301.6" r="6.25" fill="#7e30a0" stroke="#000" stroke-opacity="0.78" stroke-width="1.0"/>
<circle cx="1438.0" cy="244.8" r="6.25" fill="#7e30a0" stroke="#000" stroke-opacity="0.78" stroke-width="1.0"/>
<circle cx="1438.0" cy="219.7" r="6.25" fill="#7e30a0" stroke="#000" stroke-opacity="0.78" stroke-width="1.0"/>
<circle cx="1438.0" cy="312.9" r="6.25" fill="#7e30a0" stroke="#000" stroke-opacity="0.78" stroke-width="1.0"/>
<circle cx="1438.0" cy="235.1" r="6.25" fill="#7e30a0" stroke="#000" stroke-opacity="0.78" stroke-width="1.0"/>
<circle cx="1438.0" cy="269.1" r="6.25" fill="#7e30a0" stroke="#000" stroke-opacity="0.78" stroke-width="1.0"/>
<circle cx="1438.0" cy="345.3" r="6.25" fill="#7e30a0" stroke="#000" stroke-opacity="0.78" stroke-width="1.0"/>
<circle cx="1438.0" cy="392.4" r="6.25" fill="#7e30a0" stroke="#000" stroke-opacity="0.78" stroke-width="1.0"/>
<circle cx="1438.0" cy="291.1" r="6.25" fill="#7e30a0" stroke="#000" stroke-opacity="0.78" stroke-width="1.0"/>
<circle cx="1438.0" cy="288.3" r="6.25" fill="#7e30a0" stroke="#000" stroke-opacity="0.78" stroke-width="1.0"/>
<circle cx="1438.0" cy="273.3" r="6.25" fill="#7e30a0" stroke="#000" stroke-opacity="0.78" stroke-width="1.0"/>
<circle cx="1438.0" cy="397.5" r="6.25" fill="#7e30a0" stroke="#000" stroke-opacity="0.78" stroke-width="1.0"/>
<circle cx="1438.0" cy="342.0" r="6.25" fill="#7e30a0" stroke="#000" stroke-opacity="0.78" stroke-width="1.0"/>
<circle cx="1438.0" cy="353.0" r="6.25" fill="#7e30a0" stroke="#000" stroke-opacity="0.78" stroke-width="1.0"/>
<circle cx="1438.0" cy="326.2" r="6.25" fill="#7e30a0" stroke="#000" stroke-opacity="0.78" stroke-width="1.0"/>
<circle cx="1438.0" cy="280.1" r="6.25" fill="#7e30a0" stroke="#000" stroke-opacity="0.78" stroke-width="1.0"/>
<circle cx="1438.0" cy="349.1" r="6.25" fill="#7e30a0" stroke="#000" stroke-opacity="0.78" stroke-width="1.0"/>
<circle cx="1438.0" cy="212.1" r="6.25" fill="#7e30a0" stroke="#000" stroke-opacity="0.78" stroke-width="1.0"/>
<circle cx="1438.0" cy="242.1" r="6.25" fill="#7e30a0" stroke="#000" stroke-opacity="0.78" stroke-width="1.0"/>
<circle cx="1438.0" cy="376.6" r="6.25" fill="#7e30a0" stroke="#000" stroke-opacity="0.78" stroke-width="1.0"/>
<circle cx="1438.0" cy="249.0" r="6.25" fill="#7e30a0" stroke="#000" stroke-opacity="0.78" stroke-width="1.0"/>
<circle cx="1438.0" cy="207.9" r="6.25" fill="#7e30a0" stroke="#000" stroke-opacity="0.78" stroke-width="1.0"/>
<circle cx="1438.0" cy="320.3" r="6.25" fill="#7e30a0" stroke="#000" stroke-opacity="0.78" stroke-width="1.0"/>
<circle cx="1438.0" cy="361.9" r="6.25" fill="#7e30a0" stroke="#000" stroke-opacity="0.78" stroke-width="1.0"/>
<circle cx="1438.0" cy="395.1" r="6.25" fill="#7e30a0" stroke="#000" stroke-opacity="0.78" stroke-width="1.0"/>
<circle cx="1438.0" cy="388.6" r="6.25" fill="#7e30a0" stroke="#000" stroke-opacity="0.78" stroke-width="1.0"/>
<circle cx="1438.0" cy="253.0" r="6.25" fill="#7e30a0" stroke="#000" stroke-opacity="0.78" stroke-width="1.0"/>
<line x1="1432.2" y1="207.9" x2="1432.2" y2="401.8" stroke="#000" stroke-opacity="0.55" stroke-width="1.6"/>
<line x1="1443.8" y1="207.9" x2="1443.8" y2="401.8" stroke="#000" stroke-opacity="0.55" stroke-width="1.6"/>
<circle cx="1438.0" cy="425.5" r="6.25" fill="#7e30a0" stroke="#000" stroke-opacity="0.78" stroke-width="1.0"/>
<circle cx="1438.0" cy="433.0" r="6.25" fill="#7e30a0" stroke="#000" stroke-opacity="0.78" stroke-width="1.0"/>
<circle cx="1438.0" cy="452.5" r="6.25" fill="#7e30a0" stroke="#000" stroke-opacity="0.78" stroke-width="1.0"/>
<circle cx="1438.0" cy="455.0" r="6.25" fill="#7e30a0" stroke="#000" stroke-opacity="0.78" stroke-width="1.0"/>
<circle cx="1438.0" cy="475.4" r="6.25" fill="#7e30a0" stroke="#000" stroke-opacity="0.78" stroke-width="1.0"/>
<rect x="145.4" y="51.3" width="225.9" height="151.2" fill="#fefefe" stroke="#8a8a8a" stroke-width="1.8"/>
<rect x="178.8" y="67.4" width="9.8" height="9.8" fill="#3a7cc8" stroke="#000" stroke-opacity="0.78" stroke-width="1.0"/>
<text x="222.6" y="84.3" font-size="30" text-anchor="start" fill="#0a0a0a" font-family='"Liberation Serif", serif' textLength="141.9" lengthAdjust="spacingAndGlyphs">1 person/m²</text>
<rect x="178.8" y="103.6" width="9.8" height="9.8" fill="#d9561f" stroke="#000" stroke-opacity="0.78" stroke-width="1.0"/>
<text x="222.6" y="120.6" font-size="30" text-anchor="start" fill="#0a0a0a" font-family='"Liberation Serif", serif' textLength="141.9" lengthAdjust="spacingAndGlyphs">2 person/m²</text>
<rect x="178.8" y="140.4" width="9.8" height="9.8" fill="#e8b42a" stroke="#000" stroke-opacity="0.78" stroke-width="1.0"/>
<text x="222.6" y="156.9" font-size="30" text-anchor="start" fill="#0a0a0a" font-family='"Liberation Serif", serif' textLength="141.9" lengthAdjust="spacingAndGlyphs">3 person/m²</text>
<rect x="178.8" y="176.7" width="9.8" height="9.8" fill="#7e30a0" stroke="#000" stroke-opacity="0.78" stroke-width="1.0"/>
<text x="222.6" y="193.2" font-size="30" text-anchor="start" fill="#0a0a0a" font-family='"Liberation Serif", serif' textLength="141.9" lengthAdjust="spacingAndGlyphs">4 person/m²</text>
<rect x="886.8" y="51.6" width="227.6" height="151.2" fill="#fefefe" stroke="#8a8a8a" stroke-width="1.8"/>
<circle cx="925.6" cy="72.9" r="6.40" fill="#3a7cc8" stroke="#000" stroke-opacity="0.78" stroke-width="1.0"/>
<text x="962.9" y="83.1" font-size="30" text-anchor="start" fill="#0a0a0a" font-family='"Liberation Serif", serif' textLength="144.6" lengthAdjust="spacingAndGlyphs">1 person/m²</text>
<circle cx="925.6" cy="109.2" r="6.40" fill="#d9561f" stroke="#000" stroke-opacity="0.78" stroke-width="1.0"/>
<text x="962.9" y="119.4" font-size="30" text-anchor="start" fill="#0a0a0a" font-family='"Liberation Serif", serif' textLength="144.6" lengthAdjust="spacingAndGlyphs">2 person/m²</text>
<circle cx="925.6" cy="145.5" r="6.40" fill="#e8b42a" stroke="#000" stroke-opacity="0.78" stroke-width="1.0"/>
<text x="962.9" y="155.7" font-size="30" text-anchor="start" fill="#0a0a0a" font-family='"Liberation Serif", serif' textLength="144.6" lengthAdjust="spacingAndGlyphs">3 person/m²</text>
<circle cx="925.6" cy="181.8" r="6.40" fill="#7e30a0" stroke="#000" stroke-opacity="0.78" stroke-width="1.0"/>
<text x="962.9" y="192.0" font-size="30" text-anchor="start" fill="#0a0a0a" font-family='"Liberation Serif", serif' textLength="144.6" lengthAdjust="spacingAndGlyphs">4 person/m²</text>
<text x="94.0" y="526.0" font-size="30" text-anchor="start" fill="#363636" font-family='"Liberation Serif", serif' stroke="#fefefe" stroke-width="0.28">0</text>
<text x="71.5" y="431.0" font-size="30" text-anchor="start" fill="#363636" font-family='"Liberation Serif", serif' stroke="#fefefe" stroke-width="0.28">0.1</text>
<text x="71.5" y="336.1" font-size="30" text-anchor="start" fill="#363636" font-family='"Liberation Serif", serif' stroke="#fefefe" stroke-width="0.28">0.2</text>
<text x="71.5" y="241.1" font-size="30" text-anchor="start" fill="#363636" font-family='"Liberation Serif", serif' stroke="#fefefe" stroke-width="0.28">0.3</text>
<text x="71.5" y="146.2" font-size="30" text-anchor="start" fill="#363636" font-family='"Liberation Serif", serif' stroke="#fefefe" stroke-width="0.28">0.4</text>
<text x="71.5" y="51.2" font-size="30" text-anchor="start" fill="#363636" font-family='"Liberation Serif", serif' stroke="#fefefe" stroke-width="0.28">0.5</text>
<text x="841.0" y="528.5" font-size="30" text-anchor="start" fill="#2a2a2a" font-family='"Liberation Serif", serif' stroke="#fefefe" stroke-width="0.28">0</text>
<text x="818.5" y="433.1" font-size="30" text-anchor="start" fill="#2a2a2a" font-family='"Liberation Serif", serif' stroke="#fefefe" stroke-width="0.28">0.5</text>
<text x="841.0" y="337.6" font-size="30" text-anchor="start" fill="#2a2a2a" font-family='"Liberation Serif", serif' stroke="#fefefe" stroke-width="0.28">1</text>
<text x="818.5" y="242.1" font-size="30" text-anchor="start" fill="#2a2a2a" font-family='"Liberation Serif", serif' stroke="#fefefe" stroke-width="0.28">1.5</text>
<text x="841.0" y="146.7" font-size="30" text-anchor="start" fill="#2a2a2a" font-family='"Liberation Serif", serif' stroke="#fefefe" stroke-width="0.28">2</text>
<text x="818.5" y="51.2" font-size="30" text-anchor="start" fill="#2a2a2a" font-family='"Liberation Serif", serif' stroke="#fefefe" stroke-width="0.28">2.5</text>
<text x="113.4" y="553.5" font-size="30" text-anchor="start" fill="#363636" font-family='"Liberation Serif", serif' stroke="#fefefe" stroke-width="0.28">1</text>
<text x="860.1" y="555.0" font-size="30" text-anchor="start" fill="#2a2a2a" font-family='"Liberation Serif", serif' stroke="#fefefe" stroke-width="0.28">1</text>
<text x="303.5" y="553.5" font-size="30" text-anchor="start" fill="#363636" font-family='"Liberation Serif", serif' stroke="#fefefe" stroke-width="0.28">2</text>
<text x="1050.7" y="555.0" font-size="30" text-anchor="start" fill="#2a2a2a" font-family='"Liberation Serif", serif' stroke="#fefefe" stroke-width="0.28">2</text>
<text x="492.7" y="553.5" font-size="30" text-anchor="start" fill="#363636" font-family='"Liberation Serif", serif' stroke="#fefefe" stroke-width="0.28">3</text>
<text x="1240.4" y="555.0" font-size="30" text-anchor="start" fill="#2a2a2a" font-family='"Liberation Serif", serif' stroke="#fefefe" stroke-width="0.28">3</text>
<text x="682.2" y="553.5" font-size="30" text-anchor="start" fill="#363636" font-family='"Liberation Serif", serif' stroke="#fefefe" stroke-width="0.28">4</text>
<text x="1430.4" y="555.0" font-size="30" text-anchor="start" fill="#2a2a2a" font-family='"Liberation Serif", serif' stroke="#fefefe" stroke-width="0.28">4</text>
<text x="113.5" y="28.6" font-size="34.4" text-anchor="start" fill="#141414" font-family='"Liberation Serif", serif' textLength="584.2" lengthAdjust="spacingAndGlyphs" stroke="#fefefe" stroke-width="0.22">RMS acceleration distribution comparison</text>
<text x="874.0" y="29.3" font-size="33.2" text-anchor="start" fill="#141414" font-family='"Liberation Serif", serif' textLength="557.9" lengthAdjust="spacingAndGlyphs" stroke="#fefefe" stroke-width="0.25">Peak acceleration distribution comparison</text>
<text x="124.0" y="593.1" font-size="34.4" text-anchor="start" fill="#363636" font-family='"Liberation Serif", serif' textLength="564.0" lengthAdjust="spacingAndGlyphs" stroke="#fefefe" stroke-width="0.28">Crowd density (person per square meter)</text>
<text x="881.3" y="594.8" font-size="33.2" text-anchor="start" fill="#2a2a2a" font-family='"Liberation Serif", serif' textLength="543.0" lengthAdjust="spacingAndGlyphs" stroke="#fefefe" stroke-width="0.28">Crowd density (person per square meter)</text>
<text x="0" y="0" font-size="34.4" fill="#363636" stroke="#fefefe" stroke-width="0.2" font-family='"Liberation Serif", serif' textLength="338.6" lengthAdjust="spacingAndGlyphs" transform="translate(59.2 446.1) rotate(-90)">RMS acceleration (m/s²)</text>
<text x="0" y="0" font-size="33.2" fill="#2a2a2a" stroke="#fefefe" stroke-width="0.2" font-family='"Liberation Serif", serif' textLength="320.6" lengthAdjust="spacingAndGlyphs" transform="translate(807.0 439.2) rotate(-90)">Peak acceleration (m/s²)</text>
<text x="0.50" y="35.0" font-size="40" fill="#000" stroke="#fefefe" stroke-width="0.35" font-family='"Liberation Sans", sans-serif'>(</text>
<text x="12.70" y="35.0" font-size="40" fill="#000" stroke="#fefefe" stroke-width="0.35" font-family='"Liberation Sans", sans-serif'>a</text>
<text x="37.30" y="35.0" font-size="40" fill="#000" stroke="#fefefe" stroke-width="0.35" font-family='"Liberation Sans", sans-serif'>)</text>
<text x="751.20" y="35.0" font-size="40" fill="#000" stroke="#fefefe" stroke-width="0.35" font-family='"Liberation Sans", sans-serif'>(</text>
<text x="764.70" y="35.0" font-size="40" fill="#000" stroke="#fefefe" stroke-width="0.35" font-family='"Liberation Sans", sans-serif'>b</text>
<text x="788.10" y="35.0" font-size="40" fill="#000" stroke="#fefefe" stroke-width="0.35" font-family='"Liberation Sans", sans-serif'>)</text>
</svg>
</body></html>
